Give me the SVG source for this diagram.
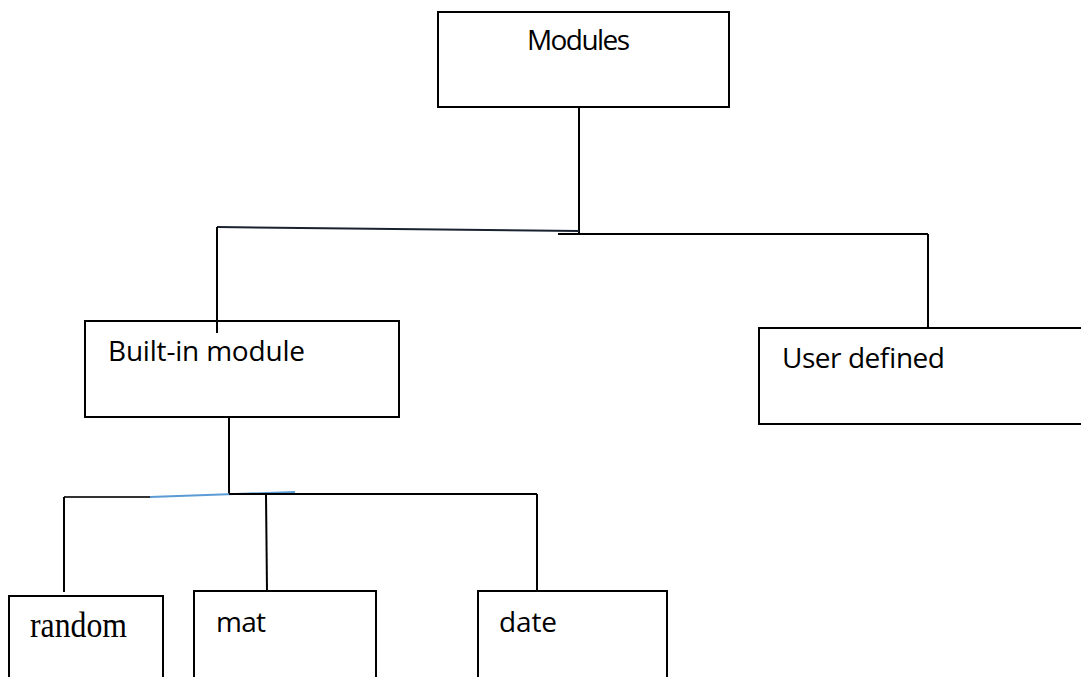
<svg xmlns="http://www.w3.org/2000/svg" width="1081" height="677" viewBox="0 0 1081 677">
<style>
.box{fill:#fff;stroke:#000;stroke-width:2}
.ln{stroke:#000;stroke-width:2;fill:none}
.t{font-family:"Open Sans","Liberation Sans",sans-serif;font-size:28px;fill:#000}
.s{font-family:"Liberation Serif",serif;font-size:35px;fill:#000}
</style>
<rect width="1081" height="677" fill="#fff"/>
<g id="modules">
<rect class="box" x="438" y="12" width="291" height="95"/>
<text class="t" x="527" y="50" textLength="103">Modules</text>
</g>
<g id="builtin">
<rect class="box" x="85" y="321" width="314" height="96"/>
<text class="t" x="108" y="361" textLength="197">Built-in module</text>
</g>
<g id="userdefined">
<rect class="box" x="759" y="328" width="340" height="96"/>
<text class="t" x="782" y="368" textLength="163">User defined</text>
</g>
<g id="random">
<rect class="box" x="9" y="596" width="154" height="100"/>
<text class="s" x="30" y="637" textLength="97" lengthAdjust="spacingAndGlyphs">random</text>
</g>
<g id="mat">
<rect class="box" x="194" y="591" width="182" height="100"/>
<text class="t" x="216" y="632" textLength="50">mat</text>
</g>
<g id="date">
<rect class="box" x="478" y="591" width="189" height="100"/>
<text class="t" x="499" y="632" textLength="58">date</text>
</g>
<g id="connectors">
<line class="ln" x1="579" y1="107" x2="579" y2="233"/>
<line class="ln" x1="558" y1="234" x2="928" y2="234"/>
<line class="ln" x1="928" y1="234" x2="928" y2="328"/>
<line x1="579" y1="231" x2="217" y2="227" stroke="#1a2230" stroke-width="2"/>
<line class="ln" x1="217" y1="227" x2="217" y2="333"/>
<line class="ln" x1="229" y1="417" x2="229" y2="494"/>
<line x1="64" y1="497" x2="150" y2="497" stroke="#333" stroke-width="2"/>
<line x1="150" y1="497" x2="295" y2="492" stroke="#5b9bd5" stroke-width="2"/>
<line class="ln" x1="229" y1="494" x2="537" y2="494"/>
<line class="ln" x1="64" y1="497" x2="64" y2="592"/>
<line class="ln" x1="266" y1="494" x2="267" y2="591"/>
<line class="ln" x1="537" y1="494" x2="537" y2="591"/>
</g>
</svg>
